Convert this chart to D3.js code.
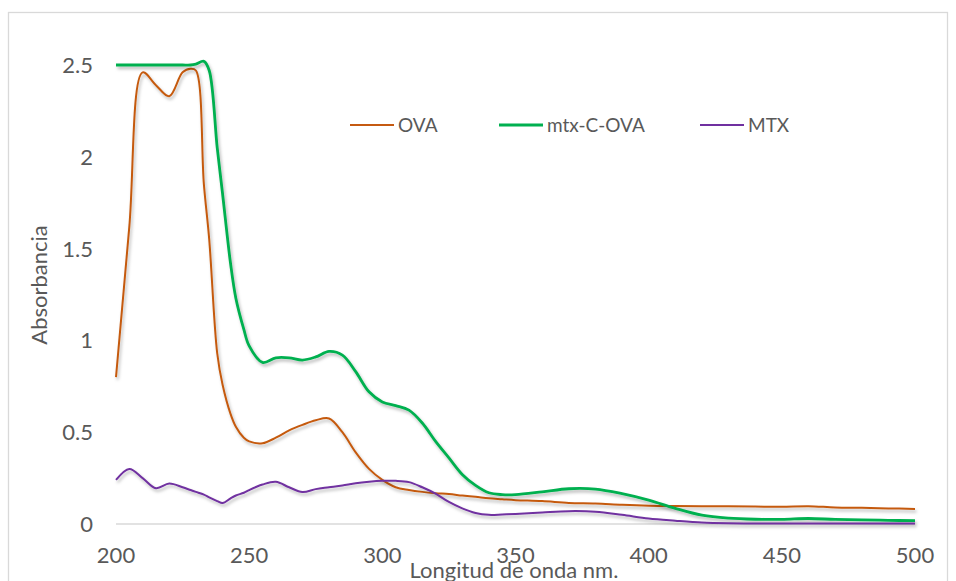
<!DOCTYPE html>
<html>
<head>
<meta charset="utf-8">
<script src="https://cdn.jsdelivr.net/npm/d3@7"></script>
<style>
    body { margin: 0; background: #fff; }
    text { font-family: Lato, "Open Sans", sans-serif; fill: #595959; }
</style>
</head>
<body>
<div class="chart"></div>
<script>
// wavelengths (nm)
const wavelengths = [200, 205, 210, 215, 220, 225, 228, 230, 233, 235, 238, 240, 243, 245, 248, 250,
    255, 260, 265, 270, 275, 280, 285, 290, 295, 300, 305, 310, 315, 320, 325, 330, 335, 340, 345, 350,
    360, 370, 380, 390, 400, 410, 420, 430, 440, 450, 460, 470, 480, 490, 500];

const ova = [0.80, 1.62, 2.46, 2.39, 2.33, 2.46, 2.48, 2.47, 1.85, 1.55, 0.93, 0.76, 0.60, 0.53, 0.47, 0.45,
    0.44, 0.47, 0.51, 0.54, 0.565, 0.575, 0.50, 0.39, 0.30, 0.24, 0.20, 0.185, 0.175, 0.168, 0.163, 0.155, 0.148, 0.14, 0.135, 0.13,
    0.125, 0.115, 0.112, 0.105, 0.10, 0.098, 0.097, 0.096, 0.095, 0.094, 0.097, 0.09, 0.088, 0.085, 0.082];

const mtxCOva = [2.50, 2.50, 2.50, 2.50, 2.50, 2.50, 2.50, 2.505, 2.52, 2.47, 2.05, 1.80, 1.42, 1.23, 1.06, 0.97,
    0.88, 0.905, 0.905, 0.893, 0.91, 0.94, 0.92, 0.83, 0.72, 0.665, 0.645, 0.62, 0.55, 0.45, 0.36, 0.27, 0.21, 0.17, 0.16, 0.16,
    0.175, 0.192, 0.19, 0.165, 0.13, 0.085, 0.048, 0.032, 0.026, 0.025, 0.03, 0.025, 0.022, 0.02, 0.018];

const mtx = [0.24, 0.30, 0.25, 0.195, 0.22, 0.20, 0.185, 0.175, 0.16, 0.145, 0.125, 0.114, 0.14, 0.155, 0.17, 0.185,
    0.215, 0.23, 0.20, 0.174, 0.19, 0.20, 0.21, 0.222, 0.23, 0.235, 0.235, 0.228, 0.20, 0.165, 0.12, 0.085, 0.06, 0.05, 0.052, 0.055,
    0.063, 0.07, 0.067, 0.05, 0.03, 0.018, 0.008, 0.004, 0.003, 0.003, 0.003, 0.003, 0.003, 0.003, 0.003];

const seriesNames = ["OVA", "mtx-C-OVA", "MTX"];
const seriesColors = ["#C55A11", "#00B050", "#7030A0"];
const xTicks = [200, 250, 300, 350, 400, 450, 500];
const yTicks = [0, 0.5, 1, 1.5, 2, 2.5];

let width = 956, height = 581;
let svg = d3.select(".chart").append("svg").attr("width", width).attr("height", height);

// shadow under the lines
let defs = svg.append("defs");
defs.append("filter").attr("id", "shadow")
    .attr("x", "-5%").attr("y", "-5%").attr("width", "110%").attr("height", "120%")
    .append("feDropShadow")
    .attr("dx", 1.5).attr("dy", 2.5).attr("stdDeviation", 1.6)
    .attr("flood-color", "#000").attr("flood-opacity", 0.28);

// chart border
svg.append("rect")
    .attr("x", 8.5).attr("y", 12.5).attr("width", 939).attr("height", 600)
    .attr("fill", "none").attr("stroke", "#d9d9d9").attr("stroke-width", 1.3);

let x = d3.scaleLinear().domain([200, 500]).range([116, 915]);
let y = d3.scaleLinear().domain([0, 2.5]).range([524, 65]);

// baseline
svg.append("line")
    .attr("x1", x(200)).attr("x2", x(500)).attr("y1", y(0)).attr("y2", y(0))
    .attr("stroke", "#d9d9d9").attr("stroke-width", 1.6);

// tick labels
svg.append("g").selectAll("text").data(xTicks).enter().append("text")
    .attr("x", function (d) { return x(d); })
    .attr("y", 563)
    .attr("text-anchor", "middle")
    .attr("font-size", "22px")
    .text(function (d) { return d; });

svg.append("g").selectAll("text").data(yTicks).enter().append("text")
    .attr("x", 93)
    .attr("y", function (d) { return y(d) + 8; })
    .attr("text-anchor", "end")
    .attr("font-size", "22px")
    .text(function (d) { return d; });

// axis titles
svg.append("text")
    .attr("transform", "translate(47,285) rotate(-90)")
    .attr("text-anchor", "middle")
    .attr("font-size", "22px")
    .text("Absorbancia");

svg.append("text")
    .attr("x", 514).attr("y", 578)
    .attr("text-anchor", "middle")
    .attr("font-size", "22px")
    .text("Longitud de onda nm.");

// series
let allSeries = [ova, mtxCOva, mtx];
let line = d3.line()
    .x(function (d, i) { return x(wavelengths[i]); })
    .y(function (d) { return y(d); })
    .curve(d3.curveCatmullRom.alpha(0.5));

let widths = [2, 2.8, 2];
svg.append("g").selectAll("path").data(allSeries).enter().append("path")
    .attr("d", line)
    .attr("fill", "none")
    .attr("stroke", function (d, i) { return seriesColors[i]; })
    .attr("stroke-width", function (d, i) { return widths[i]; })
    .attr("stroke-linejoin", "round")
    .attr("filter", "url(#shadow)");

// legend
let legendX = [350, 499, 700];
let legend = svg.append("g").selectAll("g").data(seriesNames).enter().append("g")
    .attr("transform", function (d, i) { return "translate(" + legendX[i] + ",125)"; });
legend.append("line")
    .attr("x1", 0).attr("x2", 44).attr("y1", 0).attr("y2", 0)
    .attr("stroke", function (d, i) { return seriesColors[i]; })
    .attr("stroke-width", function (d, i) { return widths[i]; });
legend.append("text")
    .attr("x", 48).attr("y", 7)
    .attr("font-size", "19px")
    .text(function (d) { return d; });
</script>
</body>
</html>
